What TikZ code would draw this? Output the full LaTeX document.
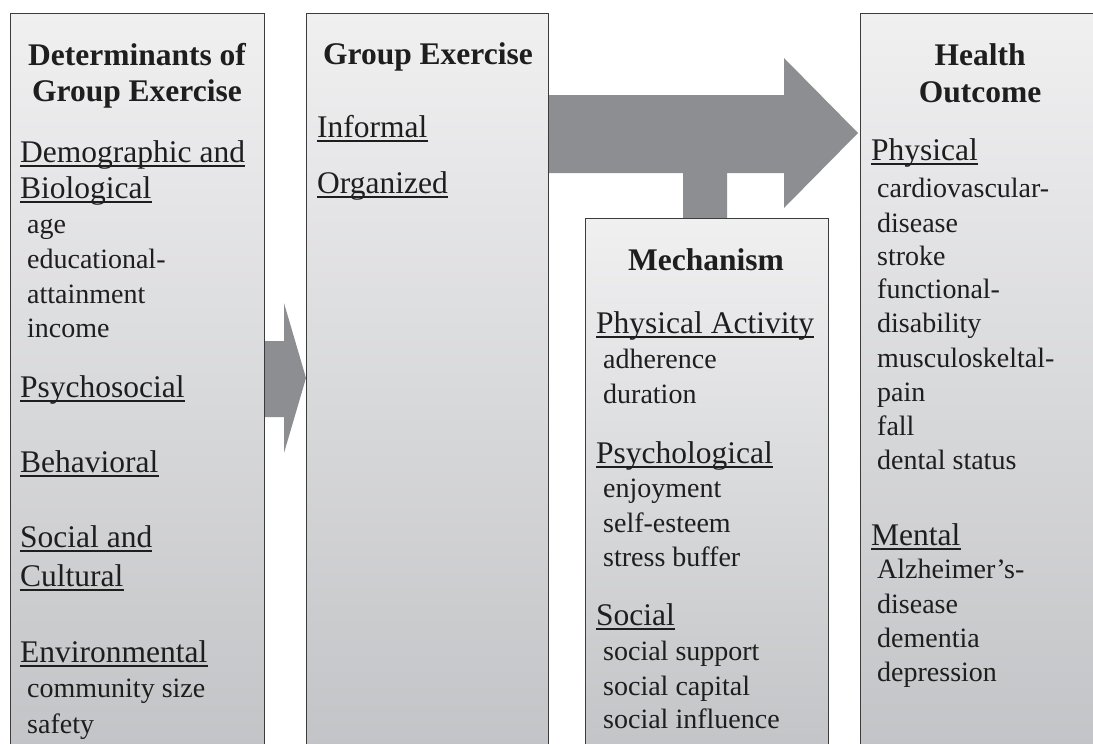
\documentclass[tikz,border=0pt]{standalone}
\usepackage{fontspec}
\setmainfont{Liberation Serif}
\definecolor{boxtop}{HTML}{F0F0F1}
\definecolor{boxbot}{HTML}{C2C3C6}
\definecolor{arrowfill}{HTML}{8D8E92}
\definecolor{boxline}{HTML}{3C3C3C}
\definecolor{txt}{HTML}{1E1E1E}
\newcommand\headfont{\fontsize{31.5}{36}\selectfont\bfseries}
\newcommand\catfont{\fontsize{31.5}{36}\selectfont}
\newcommand\itemfont{\fontsize{28}{34}\selectfont}
\newcommand\ulcat[4]{\node[cat] (#1) at (#2,#3) {#4};
  \draw[ulline] ([yshift=-4pt]#1.base west) -- ([yshift=-4pt]#1.base east);}
\tikzset{
  boxfill/.style={top color=boxtop, bottom color=boxbot, inner sep=0pt, anchor=north west},
  box/.style={boxfill, draw=boxline, line width=1pt},
  edge/.style={draw=boxline, line width=1pt},
  blockarrow/.style={fill=arrowfill},
  head/.style={font=\headfont, inner sep=0pt, anchor=base, text=txt},
  cat/.style={font=\catfont, inner sep=0pt, anchor=base west, text=txt},
  item/.style={font=\itemfont, inner sep=0pt, anchor=base west, text=txt},
  ulline/.style={draw=txt, line width=1.2pt},
}
\begin{document}
\begin{tikzpicture}[x=1pt,y=-1pt]
\useasboundingbox (0,0) rectangle (1093,744);
\fill[white] (0,0) rectangle (1093,744);
\clip (0,0) rectangle (1093,744);
% block arrows
\fill[blockarrow] (548,95) -- (784,95) -- (784,58) -- (858,133) -- (784,208)
  -- (784,173) -- (727,173) -- (727,218) -- (683,218) -- (683,173) -- (548,173) -- cycle;
\fill[blockarrow] (263,341) -- (284,341) -- (284,303) -- (306,378) -- (284,453)
  -- (284,417) -- (263,417) -- cycle;
% boxes
\node[box, minimum width=254pt, minimum height=750pt] (b1) at (10,13) {};
\node[box, minimum width=242pt, minimum height=750pt] (b2) at (306,13) {};
\node[box, minimum width=243pt, minimum height=545pt] (b3) at (585,218) {};
\node[boxfill, minimum width=260pt, minimum height=750pt] (b4) at (860,13) {};
\draw[edge] (b4.south west) -- (b4.north west) -- (b4.north east);
% column 1
\node[head] (h1a) at (137,65) {Determinants of};
\node[head] (h1b) at (137,101) {Group Exercise};
\ulcat{c1a}{20}{162}{Demographic and}
\ulcat{c1b}{20}{198}{Biological}
\ulcat{c1c}{20}{397}{Psychosocial}
\ulcat{c1d}{20}{472}{Behavioral}
\ulcat{c1e}{20}{547}{Social and}
\ulcat{c1f}{20}{586}{Cultural}
\ulcat{c1g}{20}{662}{Environmental}
\foreach \y/\t [count=\i] in {233/age, 268/educational-, 303/attainment, 337/income,
  697/community size, 733/safety}
  \node[item] (i1\i) at (27,\y) {\t};
% column 2
\node[head] (h2) at (428,64) {Group Exercise};
\ulcat{c2a}{317}{137}{Informal}
\ulcat{c2b}{317}{193}{Organized}
% column 3
\node[head] (h3) at (706,270) {Mechanism};
\ulcat{c3a}{596}{333}{Physical Activity}
\ulcat{c3b}{596}{463}{Psychological}
\ulcat{c3c}{596}{625}{Social}
\foreach \y/\t [count=\i] in {368/adherence, 403/duration, 497/enjoyment, 532/self-esteem,
  566/stress buffer, 660/social support, 695/social capital, 728/social influence}
  \node[item] (i3\i) at (603,\y) {\t};
% column 4
\node[head] (h4a) at (980,65) {Health};
\node[head] (h4b) at (980,102) {Outcome};
\ulcat{c4a}{871}{160}{Physical}
\ulcat{c4b}{871}{545}{Mental}
\foreach \y/\t [count=\i] in {197/cardiovascular-, 232/disease, 265/stroke, 298/functional-,
  332/disability, 367/musculoskeltal-, 401/pain, 435/fall, 469/dental status,
  578/Alzheimer’s-, 613/disease, 647/dementia, 681/depression}
  \node[item] (i4\i) at (877,\y) {\t};
\end{tikzpicture}
\end{document}
